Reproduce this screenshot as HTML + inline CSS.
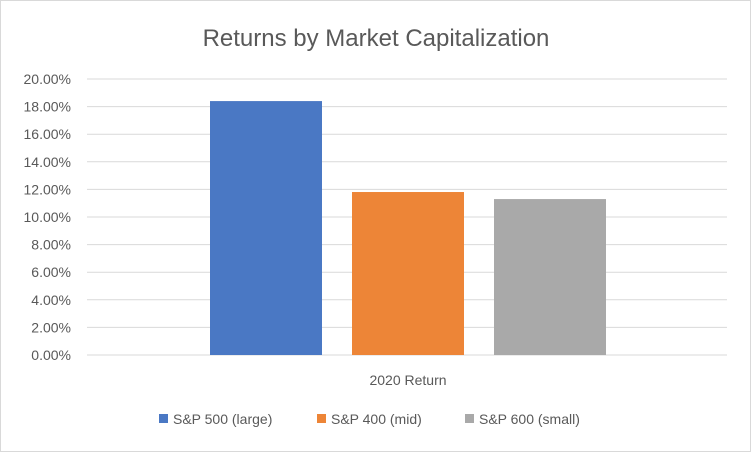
<!DOCTYPE html>
<html><head><meta charset="utf-8"><style>
body{margin:0;background:#fff;font-family:"Liberation Sans",sans-serif}
svg{display:block}
</style></head><body>
<svg width="751" height="452" id="c">
<rect x="0.5" y="0.5" width="750" height="451" fill="#fff" stroke="#d9d9d9"/>
<text x="376" y="46" text-anchor="middle" font-size="24" fill="#595959">Returns by Market Capitalization</text>
<g id="grid"></g><g id="bars"></g>
<text x="408" y="385" text-anchor="middle" font-size="14" fill="#595959">2020 Return</text>
<g id="legend"></g>
</svg>
<script>
const series=["S&P 500 (large)","S&P 400 (mid)","S&P 600 (small)"];
const values=[18.4,11.81,11.3];
const colors=["#4a78c4","#ed8537","#a9a9a9"];
const ticks=[0,2,4,6,8,10,12,14,16,18,20];
const NS="http://www.w3.org/2000/svg";
const x0=87,x1=727,yb=355,yt=79;
const y=v=>yb-(v/20)*(yb-yt);
function mk(t,a,p){const e=document.createElementNS(NS,t);for(const k in a)e.setAttribute(k,a[k]);p.appendChild(e);return e;}
const g=document.getElementById('grid');
ticks.forEach(t=>{
 const l=mk('line',{x1:x0,x2:x1,y1:y(t),y2:y(t),stroke:'#d9d9d9','stroke-width':1},g);
 
 
 const tx=mk('text',{x:71,y:y(t)+5,'text-anchor':'end','font-size':14,fill:'#595959'},g);
 tx.textContent=t.toFixed(2)+'%';
 
 
});
const b=document.getElementById('bars');
const bw=112,gap=30,start=210;
values.forEach((v,i)=>{
 const r=mk('rect',{x:start+i*(bw+gap),y:y(v),width:bw,height:yb-y(v),fill:colors[i]},b);
 
 
});
const lg=document.getElementById('legend');
const lx=[159,317,465];
series.forEach((s,i)=>{
 const r=mk('rect',{x:lx[i],y:414,width:9,height:9,fill:colors[i]},lg);
 
 
 const t=mk('text',{x:lx[i]+14,y:424,'font-size':14,fill:'#595959'},lg);
 t.textContent=s;
 
 
});
</script>
</body></html>
